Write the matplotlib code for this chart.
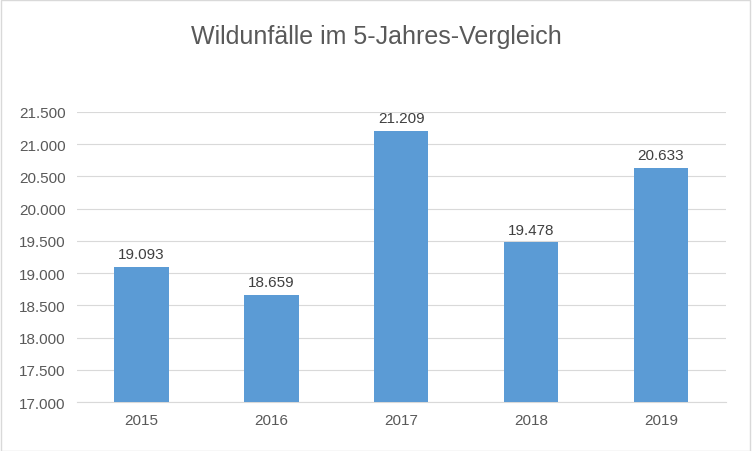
import matplotlib
matplotlib.use("Agg")
import matplotlib.pyplot as plt
from matplotlib.patches import Rectangle

years = ["2015", "2016", "2017", "2018", "2019"]
values = [19093, 18659, 21209, 19478, 20633]
yticks = [17000, 17500, 18000, 18500, 19000, 19500, 20000, 20500, 21000, 21500]
title = "Wildunfälle im 5-Jahres-Vergleich"

def fmt(v):
    return f"{v:,}".replace(",", ".")

plt.rcParams["font.family"] = "Liberation Sans"
fig = plt.figure(figsize=(7.52, 4.52), dpi=100)
ax = fig.add_axes([0.102, 0.108, 0.863, 0.642])
x = range(len(years))
ax.bar(x, values, width=0.42, color="#5B9BD5", zorder=3)
ax.set_xlim(-0.5, len(years) - 0.5)
ax.set_ylim(17000, 21500)
ax.set_yticks(yticks)
ax.set_yticklabels([fmt(v) for v in yticks], fontsize=11, color="#595959")
ax.set_xticks(list(x))
ax.set_xticklabels(years, fontsize=11, color="#595959")
ax.grid(axis="y", color="#D9D9D9", linewidth=0.8, zorder=0)
for s in ["top", "right", "left"]:
    ax.spines[s].set_visible(False)
ax.spines["bottom"].set_color("#D9D9D9")
ax.tick_params(length=0, pad=8)
for xi, v in zip(x, values):
    ax.text(xi, v + 90, fmt(v), ha="center", va="bottom", fontsize=11, color="#404040")
fig.text(0.5, 0.918, title, ha="center", va="center", fontsize=18, color="#595959")
fig.patches.append(Rectangle((0.001, 0.001), 0.997, 0.997, transform=fig.transFigure,
                             fill=False, edgecolor="#D9D9D9", linewidth=1))
fig.savefig("out.png", dpi=100)
